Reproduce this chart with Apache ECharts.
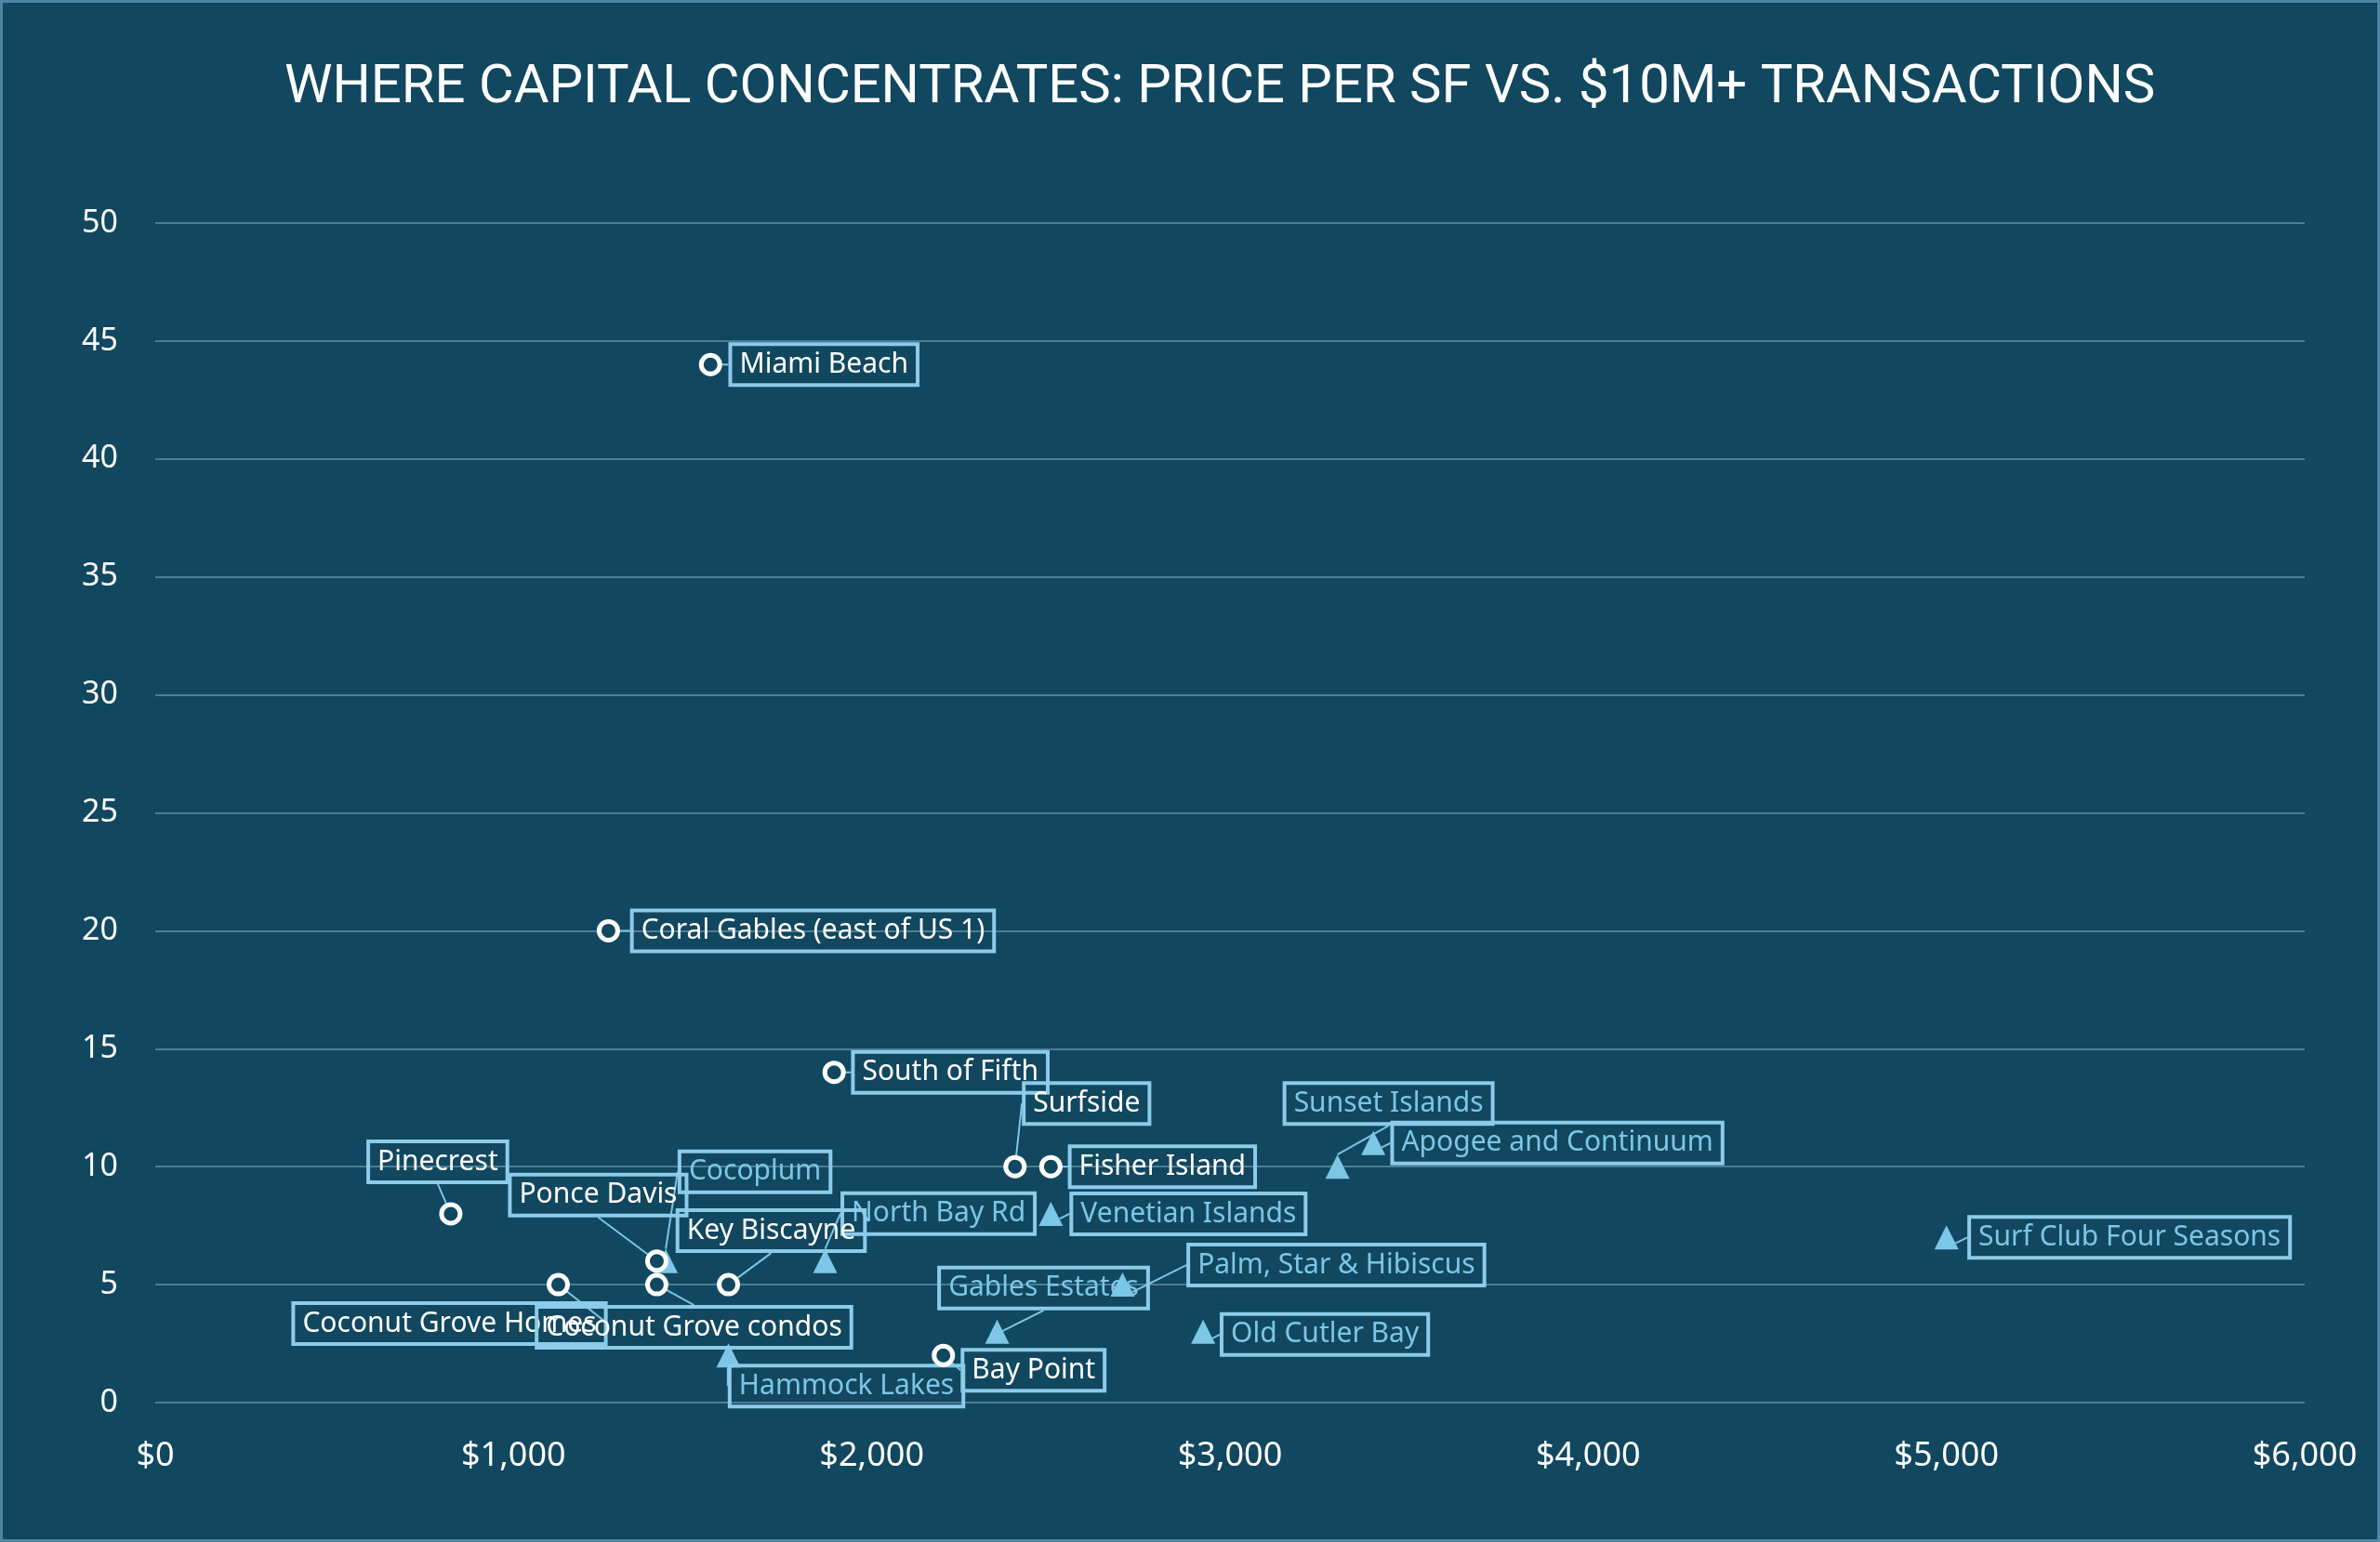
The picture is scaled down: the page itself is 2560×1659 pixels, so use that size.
<!DOCTYPE html>
<html>
<head>
<meta charset="utf-8">
<script src="https://cdn.jsdelivr.net/npm/echarts@6/dist/echarts.min.js"></script>
<style>
html,body{margin:0;padding:0;background:#11475f;}
#chart{width:2560px;height:1659px;box-sizing:border-box;border:3px solid #4f86a3;}
</style>
</head>
<body>
<div id="chart"></div>
<script>
// ---- Data ----
const titleText = 'WHERE CAPITAL CONCENTRATES: PRICE PER SF VS. $10M+ TRANSACTIONS';
const xTicks = [0, 1000, 2000, 3000, 4000, 5000, 6000];
const yTicks = [0, 5, 10, 15, 20, 25, 30, 35, 40, 45, 50];

// Circle series (white markers)
const circleNames = ['Miami Beach', 'Coral Gables (east of US 1)', 'South of Fifth', 'Surfside', 'Fisher Island',
  'Pinecrest', 'Ponce Davis', 'Key Biscayne', 'Coconut Grove Homes', 'Coconut Grove condos', 'Bay Point'];
const circlePrice = [1550, 1265, 1895, 2400, 2500, 825, 1400, 1600, 1125, 1400, 2200];
const circleDeals = [44, 20, 14, 10, 10, 8, 6, 5, 5, 5, 2];

// Triangle series (light blue markers)
const triNames = ['Cocoplum', 'North Bay Rd', 'Hammock Lakes', 'Gables Estates', 'Venetian Islands',
  'Palm, Star & Hibiscus', 'Old Cutler Bay', 'Sunset Islands', 'Apogee and Continuum', 'Surf Club Four Seasons'];
const triPrice = [1425, 1870, 1600, 2350, 2500, 2700, 2925, 3300, 3400, 5000];
const triDeals = [6, 6, 2, 3, 8, 5, 3, 10, 11, 7];

// ---- Label placement (px offsets of label centre from its point) ----
const labelOffsets = {
  'Miami Beach': [122, 0],
  'Coral Gables (east of US 1)': [220, 0],
  'South of Fifth': [125, 0],
  'Surfside': [77, -68],
  'Fisher Island': [120, 0],
  'Pinecrest': [-14, -56],
  'Ponce Davis': [-63, -71],
  'Key Biscayne': [46, -58],
  'Coconut Grove Homes': [-117, 42],
  'Coconut Grove condos': [40, 46],
  'Bay Point': [97, 16],
  'Cocoplum': [96, -96],
  'North Bay Rd': [122, -51],
  'Hammock Lakes': [127, 33],
  'Gables Estates': [50, -47],
  'Venetian Islands': [148, 0],
  'Palm, Star & Hibiscus': [230, -21],
  'Old Cutler Bay': [131, 3],
  'Sunset Islands': [55, -68],
  'Apogee and Continuum': [198, 0],
  'Surf Club Four Seasons': [197, 0]
};

const BG = '#11475f';
const LIGHT = '#7cc6e6';
const BOX = '#8ccbe9';
const FONT = '"Noto Sans", "Open Sans", sans-serif';

function pts(names, xs, ys) {
  return names.map((n, i) => ({ name: n, value: [xs[i], ys[i]] }));
}

function labelCfg(color) {
  return {
    show: true,
    position: 'inside',
    formatter: p => p.name,
    color: color,
    fontFamily: FONT,
    fontSize: 30,
    borderColor: BOX,
    borderWidth: 2,
    padding: [7, 10, 7, 10],
    backgroundColor: 'transparent'
  };
}

const chart = echarts.init(document.getElementById('chart'));
chart.setOption({
  backgroundColor: BG,
  animation: false,
  title: {
    text: titleText,
    left: 298,
    top: 58,
    textStyle: { color: '#ffffff', fontFamily: 'Roboto, "Noto Sans", sans-serif', fontSize: 58, fontWeight: 'normal' }
  },
  grid: { left: 164, right: 78, top: 237, bottom: 147, containLabel: false },
  xAxis: {
    type: 'value', min: xTicks[0], max: xTicks[xTicks.length - 1], interval: 1000,
    axisLine: { show: false }, axisTick: { show: false }, splitLine: { show: false },
    axisLabel: {
      color: '#ffffff', fontFamily: FONT, fontSize: 36, margin: 40,
      formatter: v => '$' + v.toLocaleString('en-US')
    }
  },
  yAxis: {
    type: 'value', min: yTicks[0], max: yTicks[yTicks.length - 1], interval: 5,
    axisLine: { show: false }, axisTick: { show: false },
    splitLine: { lineStyle: { color: '#4d7d94', width: 2 } },
    axisLabel: { color: '#ffffff', fontFamily: FONT, fontSize: 34, margin: 40 }
  },
  series: [
    {
      type: 'scatter',
      data: pts(circleNames, circlePrice, circleDeals),
      symbol: 'circle', symbolSize: 20,
      itemStyle: { color: BG, borderColor: '#ffffff', borderWidth: 5, opacity: 1 },
      label: labelCfg('#ffffff'),
      labelLine: { show: true, lineStyle: { color: LIGHT, width: 2, opacity: 1 } },
      labelLayout: p => { const o = labelOffsets[circleNames[p.dataIndex]]; return { dx: o[0], dy: o[1], hideOverlap: false }; },
      z: 3
    },
    {
      type: 'scatter',
      data: pts(triNames, triPrice, triDeals),
      symbol: 'triangle', symbolSize: 26,
      itemStyle: { color: LIGHT, opacity: 1 },
      label: labelCfg(LIGHT),
      labelLine: { show: true, lineStyle: { color: LIGHT, width: 2, opacity: 1 } },
      labelLayout: p => { const o = labelOffsets[triNames[p.dataIndex]]; return { dx: o[0], dy: o[1], hideOverlap: false }; },
      z: 2
    }
  ]
});
</script>
</body>
</html>
